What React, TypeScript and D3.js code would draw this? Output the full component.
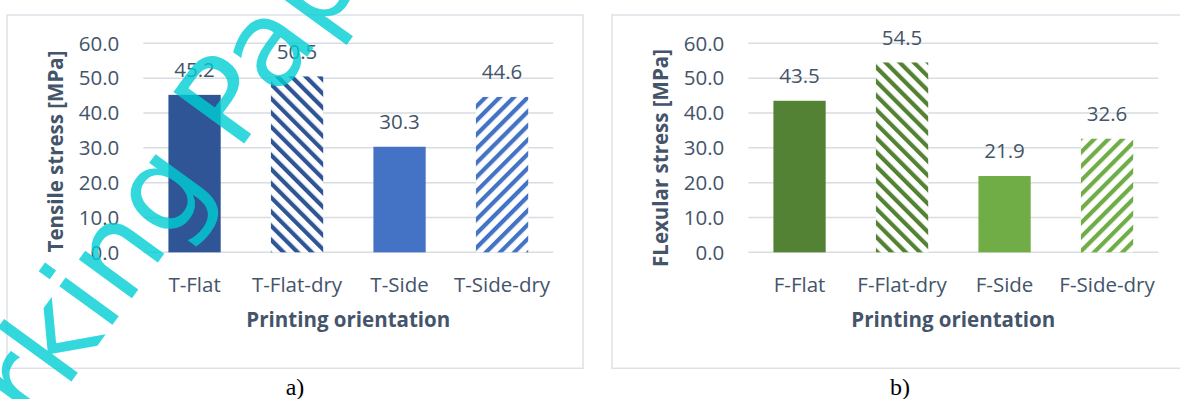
import React from "react";
import * as d3 from "d3";

const tensileCategories = ["T-Flat", "T-Flat-dry", "T-Side", "T-Side-dry"];
const tensileValues = [45.2, 50.5, 30.3, 44.6];
const flexuralCategories = ["F-Flat", "F-Flat-dry", "F-Side", "F-Side-dry"];
const flexuralValues = [43.5, 54.5, 21.9, 32.6];
const yTicks = [0, 10, 20, 30, 40, 50, 60];

const W = 1180;
const H = 399;
const TEXT = "#44546A";
const GRID = "#D9DCE1";
const FONT = "'Open Sans', 'Noto Sans', sans-serif";
const FS = 20.5;

type Fill = { color: string; hatch: "none" | "down" | "up" };

const tensileFills: Fill[] = [
  { color: "#2F5597", hatch: "none" },
  { color: "#2F5597", hatch: "down" },
  { color: "#4472C4", hatch: "none" },
  { color: "#4472C4", hatch: "up" },
];
const flexuralFills: Fill[] = [
  { color: "#548235", hatch: "none" },
  { color: "#548235", hatch: "down" },
  { color: "#70AD47", hatch: "none" },
  { color: "#70AD47", hatch: "up" },
];

function patId(f: Fill) {
  return `hatch-${f.hatch}-${f.color.slice(1)}`;
}

function HatchDefs({ fills }: { fills: Fill[] }) {
  return (
    <>
      {fills
        .filter((f) => f.hatch !== "none")
        .map((f) => (
          <pattern
            key={patId(f)}
            id={patId(f)}
            patternUnits="userSpaceOnUse"
            width={10}
            height={10}
            patternTransform={`rotate(${f.hatch === "down" ? -45 : 45})`}
          >
            <rect width={10} height={10} fill="#ffffff" />
            <rect x={0} y={0} width={4.2} height={10} fill={f.color} />
          </pattern>
        ))}
    </>
  );
}

function Panel({
  left,
  categories,
  values,
  fills,
  yTitle,
  yTitleY,
  caption,
}: {
  left: number;
  categories: string[];
  values: number[];
  fills: Fill[];
  yTitle: string;
  yTitleY: number;
  caption: string;
}) {
  const panelW = 576;
  const plotX0 = left + 136.3;
  const plotX1 = plotX0 + 410;
  const y = d3.scaleLinear().domain([0, 60]).range([252.3, 43.3]);
  const x = d3
    .scaleBand<string>()
    .domain(categories)
    .range([plotX0, plotX1])
    .paddingInner(0.49)
    .paddingOuter(0.245);
  const fmt = d3.format(".1f");
  const centerX = (plotX0 + plotX1) / 2;

  return (
    <g>
      <rect
        x={left}
        y={15}
        width={panelW}
        height={353.3}
        fill="#ffffff"
        stroke="#DDE1E6"
        strokeWidth={1.5}
      />
      {yTicks.map((t) => (
        <g key={t}>
          <line
            x1={plotX0}
            x2={plotX1}
            y1={y(t)}
            y2={y(t)}
            stroke={GRID}
            strokeWidth={1.5}
          />
          <text
            x={plotX0 - 24}
            y={y(t) + 7.2}
            textAnchor="end"
            fontSize={FS}
            fill={TEXT}
            fontFamily={FONT}
          >
            {fmt(t)}
          </text>
        </g>
      ))}
      {categories.map((c, i) => {
        const f = fills[i];
        const v = values[i];
        const bx = x(c)!;
        const bw = x.bandwidth();
        return (
          <g key={c}>
            <rect
              x={bx}
              y={y(v)}
              width={bw}
              height={y(0) - y(v)}
              fill={f.hatch === "none" ? f.color : `url(#${patId(f)})`}
            />
            <text
              x={bx + bw / 2}
              y={y(v) - 17.8}
              textAnchor="middle"
              fontSize={FS}
              fill={TEXT}
              fontFamily={FONT}
            >
              {fmt(v)}
            </text>
            <text
              x={bx + bw / 2}
              y={291.7}
              textAnchor="middle"
              fontSize={FS}
              fill={TEXT}
              fontFamily={FONT}
            >
              {c}
            </text>
          </g>
        );
      })}
      <text
        x={centerX}
        y={327}
        textAnchor="middle"
        fontSize={FS}
        fontWeight="bold"
        fill={TEXT}
        fontFamily={FONT}
      >
        Printing orientation
      </text>
      <text
        transform={`translate(${left + 56},${yTitleY}) rotate(-90)`}
        textAnchor="middle"
        fontSize={FS}
        fontWeight="bold"
        fill={TEXT}
        fontFamily={FONT}
      >
        {yTitle}
      </text>
      <text
        x={left + 288}
        y={395}
        textAnchor="middle"
        fontSize={24}
        fill="#000000"
        fontFamily="'Liberation Serif', 'Times New Roman', serif"
      >
        {caption}
      </text>
    </g>
  );
}

export default function App() {
  return (
    <svg
      width={W}
      height={H}
      viewBox={`0 0 ${W} ${H}`}
      style={{ position: "absolute", left: 0, top: 0, background: "#ffffff" }}
    >
      <defs>
        <HatchDefs fills={[...tensileFills, ...flexuralFills]} />
      </defs>
      <rect width={W} height={H} fill="#ffffff" />
      <Panel
        left={7}
        categories={tensileCategories}
        values={tensileValues}
        fills={tensileFills}
        yTitle="Tensile stress [MPa]"
        yTitleY={151.5}
        caption="a)"
      />
      <Panel
        left={612}
        categories={flexuralCategories}
        values={flexuralValues}
        fills={flexuralFills}
        yTitle="FLexular stress [MPa]"
        yTitleY={158}
        caption="b)"
      />
      <text
        transform="translate(160,205) rotate(-54)"
        x={-440}
        y={32}
        fontSize={120}
        fill="rgb(0,206,212)"
        fillOpacity={0.8}
        fontFamily="'DejaVu Sans', sans-serif"
      >
        Working Paper
      </text>
    </svg>
  );
}
